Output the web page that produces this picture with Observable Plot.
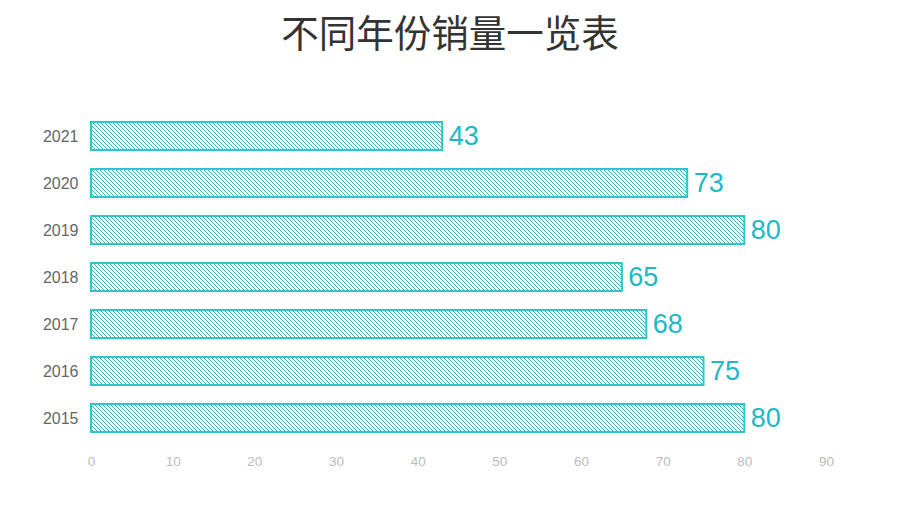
<!DOCTYPE html>
<html><head><meta charset="utf-8">
<script src="https://cdn.jsdelivr.net/npm/d3@7"></script>
<script src="https://cdn.jsdelivr.net/npm/@observablehq/plot@0.6"></script>
<style>
body{margin:0;background:#fff;width:900px;height:506px;overflow:hidden;font-family:"Noto Sans CJK SC","Liberation Sans",sans-serif;}
#title{height:70px;line-height:62px;text-align:center;font-size:37.5px;color:#333;}
</style></head><body>
<div id="title">不同年份销量一览表</div>
<div id="chart"></div>
<script>
const years = ["2015","2016","2017","2018","2019","2020","2021"];
const sales = [80, 75, 68, 65, 80, 73, 43];
const xTicks = [0,10,20,30,40,50,60,70,80,90];
const data = years.map((y,i)=>({year:y, value:sales[i]}));
const teal = "#2EC7C9";
const plot = Plot.plot({
  width: 900, height: 436,
  marginLeft: 91, marginRight: 74, marginTop: 33, marginBottom: 55,
  style:{fontFamily:"'Liberation Sans', Arial, sans-serif", background:"transparent"},
  x:{domain:[0,90], ticks:xTicks, label:null},
  y:{domain:years.slice().reverse(), padding:0.4, label:null},
  marks:[
    Plot.axisX({ticks:xTicks, tickSize:0, tickPadding:5, fontSize:13.5, color:"#bbb", label:null}),
    Plot.axisY({tickSize:0, tickPadding:13, fontSize:16, color:"#666", label:null}),
    Plot.barX(data,{x:"value", y:"year", fill:"url(#hatch)", stroke:teal, strokeWidth:2}),
    Plot.text(data,{x:"value", y:"year", text:d=>String(d.value), textAnchor:"start", dx:6, fontSize:27, fill:"#20B8C6"})
  ]
});
const ns="http://www.w3.org/2000/svg";
const defs=document.createElementNS(ns,"defs");
defs.innerHTML=`<pattern id="hatch" patternUnits="userSpaceOnUse" width="4" height="4">
<rect width="4" height="4" fill="#ffffff"/>
<path d="M-1,-1 l6,6 M-1,3 l2,2 M3,-1 l2,2" stroke="#3BB8BE" stroke-width="1"/></pattern>`;
plot.insertBefore(defs, plot.firstChild);
document.getElementById("chart").appendChild(plot);
</script></body></html>
